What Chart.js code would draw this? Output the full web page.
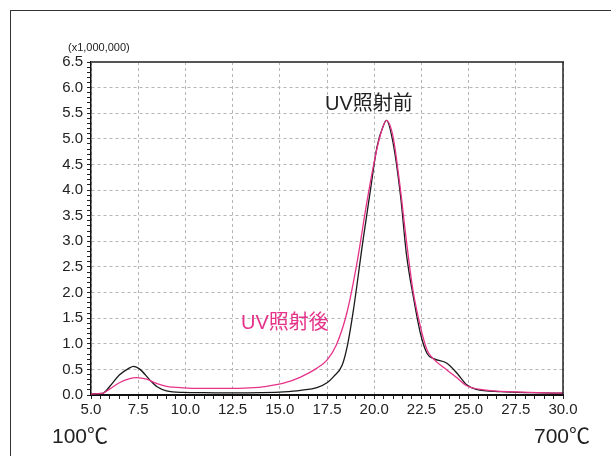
<!DOCTYPE html>
<html>
<head>
<meta charset="utf-8">
<script src="https://cdn.jsdelivr.net/npm/chart.js@4"></script>
<style>
  html, body { margin: 0; padding: 0; background: #fff; }
  #wrap { position: relative; width: 611px; height: 456px; overflow: hidden; }
  #frame { position: absolute; left: 10px; top: 10px; width: 700px; height: 600px;
           border-left: 1.5px solid #333; border-top: 1.5px solid #333; }
  .lbl { position: absolute; white-space: nowrap; font-family: "Liberation Sans", Arial, "Noto Sans CJK JP", sans-serif; line-height: 1; }
  canvas { position: absolute; left: 0; top: 0; }
</style>
</head>
<body>
<div id="wrap">
  <div id="frame"></div>
  <canvas id="c" width="611" height="456"></canvas>
  <div class="lbl" style="left:68px; top:42px; font-size:11px; color:#222;">(x1,000,000)</div>
  <div class="lbl" style="left:325px; top:93px; font-size:20px; color:#222;">UV照射前</div>
  <div class="lbl" style="left:241px; top:312px; font-size:20px; color:#e6338a;">UV照射後</div>
  <div class="lbl" style="left:52px; top:425px; font-size:21px; color:#222;">100℃</div>
  <div class="lbl" style="left:534px; top:425px; font-size:21px; color:#222;">700℃</div>
</div>
<script>
// Retention time (x) and intensity (x1,000,000) — before UV irradiation
const xBefore = [5.0, 5.6, 6.0, 6.5, 7.0, 7.25, 7.6, 8.1, 8.5, 9.0, 9.9, 11.0, 12.5, 14.0, 15.2, 16.1, 17.0, 17.5, 17.85, 18.3, 18.6, 18.9, 19.4, 19.8, 20.15, 20.5, 20.65, 21.0, 21.4, 21.7, 22.1, 22.45, 22.8, 23.15, 23.85, 24.4, 24.9, 25.4, 26.7, 28.4, 30.0];
const yBefore = [0.02, 0.03, 0.17, 0.39, 0.52, 0.56, 0.5, 0.3, 0.16, 0.08, 0.05, 0.045, 0.04, 0.045, 0.06, 0.09, 0.15, 0.24, 0.36, 0.58, 1.0, 1.66, 3.0, 4.0, 4.85, 5.27, 5.36, 4.92, 3.87, 2.77, 1.86, 1.2, 0.81, 0.71, 0.62, 0.42, 0.2, 0.11, 0.065, 0.045, 0.035];
// after UV irradiation
const xAfter = [5.0, 5.6, 6.0, 6.5, 7.05, 7.4, 7.95, 8.5, 9.0, 9.9, 10.8, 12.0, 13.4, 14.3, 15.2, 16.1, 16.95, 17.5, 18.0, 18.55, 19.05, 19.6, 19.95, 20.3, 20.65, 21.0, 21.35, 21.7, 22.05, 22.45, 22.8, 23.15, 23.85, 24.4, 24.9, 25.8, 27.5, 30.0];
const yAfter = [0.02, 0.03, 0.12, 0.24, 0.32, 0.34, 0.31, 0.22, 0.17, 0.14, 0.13, 0.13, 0.14, 0.17, 0.23, 0.35, 0.52, 0.68, 0.98, 1.6, 2.5, 3.74, 4.46, 5.04, 5.36, 5.04, 4.13, 3.03, 2.05, 1.33, 0.88, 0.7, 0.49, 0.33, 0.18, 0.1, 0.06, 0.035];

const xMin = 5, xMax = 30, xMajor = 2.5, xMinor = 0.5;
const yMin = 0, yMax = 6.5, yMajor = 0.5, yMinor = 0.1;

const toPts = (xs, ys) => xs.map((x, i) => ({x: x, y: ys[i]}));
const isMajor = (v, step) => Math.abs(v / step - Math.round(v / step)) < 1e-6;

const plotFrame = {
  id: 'plotFrame',
  afterDraw(chart) {
    const {ctx, chartArea: a} = chart;
    ctx.save();
    ctx.strokeStyle = '#555';
    ctx.lineWidth = 2;
    ctx.beginPath(); ctx.moveTo(a.left, a.top); ctx.lineTo(a.right + 1, a.top); ctx.stroke();
    ctx.strokeStyle = '#222';
    ctx.lineWidth = 1.5;
    ctx.beginPath(); ctx.moveTo(a.right, a.top); ctx.lineTo(a.right, a.bottom); ctx.stroke();
    ctx.restore();
  }
};

const tickFont = {family: '"Liberation Sans", Arial, sans-serif', size: 15};

new Chart(document.getElementById('c'), {
  type: 'line',
  data: {
    datasets: [
      {label: 'UV照射後', data: toPts(xAfter, yAfter), borderColor: '#e6338a', borderWidth: 1.3, pointRadius: 0, cubicInterpolationMode: 'monotone', fill: false},
      {label: 'UV照射前', data: toPts(xBefore, yBefore), borderColor: '#1a1a1a', borderWidth: 1.3, pointRadius: 0, cubicInterpolationMode: 'monotone', fill: false}
    ]
  },
  options: {
    responsive: false,
    animation: false,
    devicePixelRatio: 1,
    layout: {padding: {top: 62, right: 48, left: 0, bottom: 0}},
    plugins: {legend: {display: false}, tooltip: {enabled: false}},
    scales: {
      x: {
        type: 'linear', min: xMin, max: xMax,
        afterFit: s => { s.height = 61; },
        ticks: {
          stepSize: xMinor, autoSkip: false, maxRotation: 0, padding: 2,
          color: '#222', font: tickFont,
          callback: v => isMajor(v, xMajor) ? v.toFixed(1) : ''
        },
        grid: {
          color: c => (c.tick && isMajor(c.tick.value, xMajor)) ? '#b5b5b5' : 'rgba(0,0,0,0)',
          lineWidth: 1,
          tickColor: '#222',
          tickLength: 4,
          tickWidth: 1
        },
        border: {color: '#111', width: 2, dash: [3, 3]}
      },
      y: {
        type: 'linear', min: yMin, max: yMax,
        afterFit: s => { s.width = 91; },
        ticks: {
          stepSize: yMinor, autoSkip: false, padding: 4,
          color: '#222', font: tickFont,
          callback: v => isMajor(v, yMajor) ? v.toFixed(1) : ''
        },
        grid: {
          color: c => (c.tick && isMajor(c.tick.value, yMajor)) ? '#b5b5b5' : 'rgba(0,0,0,0)',
          lineWidth: 1,
          tickColor: '#222',
          tickLength: 4,
          tickWidth: 1
        },
        border: {color: '#111', width: 1.5, dash: [3, 3]}
      }
    }
  },
  plugins: [plotFrame]
});
</script>
</body>
</html>
